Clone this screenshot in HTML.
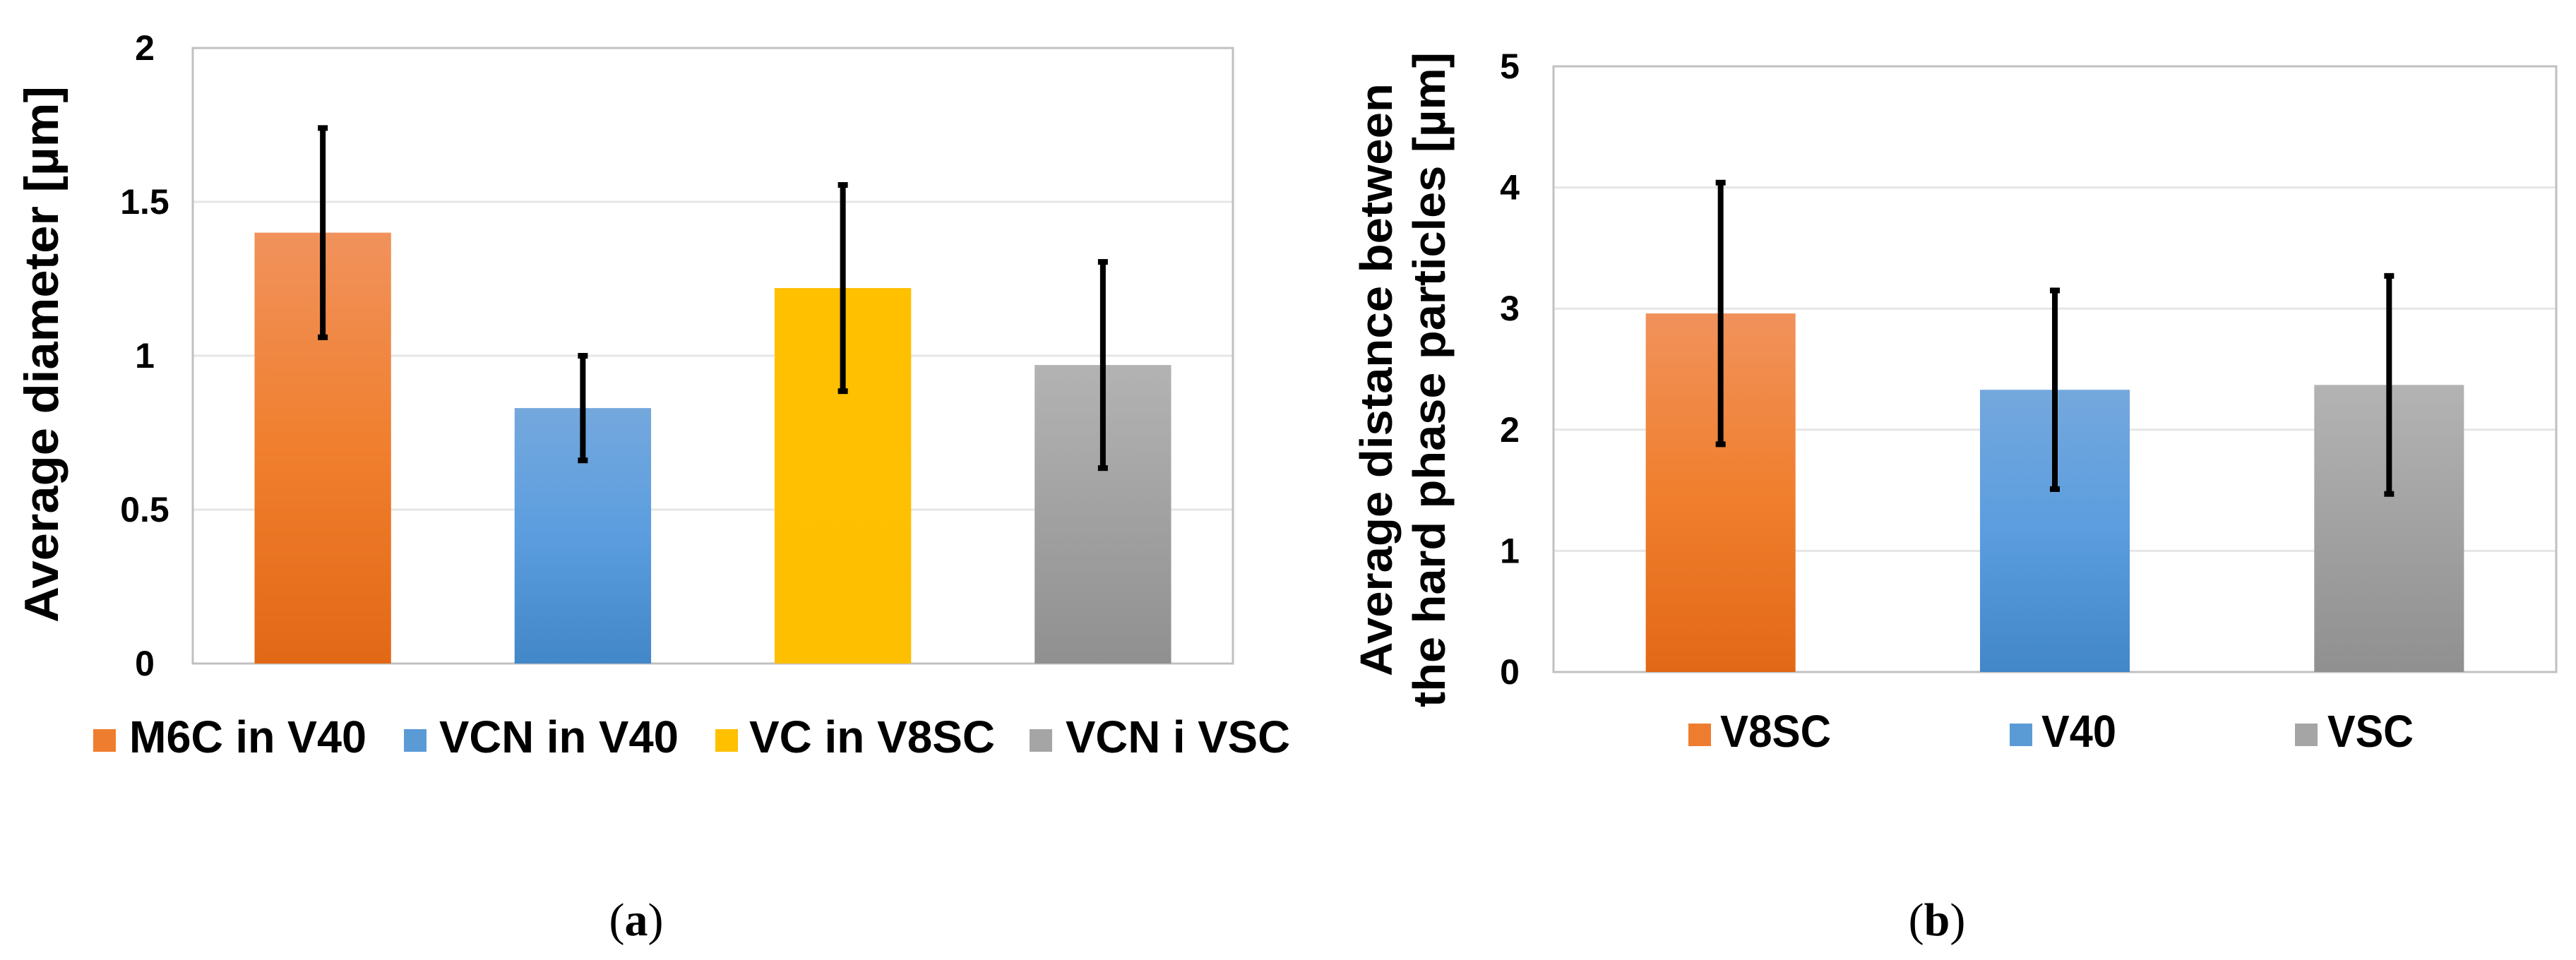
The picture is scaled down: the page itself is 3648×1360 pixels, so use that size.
<!DOCTYPE html>
<html><head><meta charset="utf-8"><style>
html,body{margin:0;padding:0;background:#fff;}
svg{display:block;font-family:"Liberation Sans",Arial,sans-serif;}
</style></head><body>
<svg id="fig" width="3648" height="1360" viewBox="0 0 3648 1360" xmlns="http://www.w3.org/2000/svg">
<defs>
<linearGradient id="gOrange" x1="0" y1="0" x2="0" y2="1"><stop offset="0" stop-color="#f1925c"/><stop offset="0.5" stop-color="#f07f2e"/><stop offset="1" stop-color="#e26816"/></linearGradient>
<linearGradient id="gBlue" x1="0" y1="0" x2="0" y2="1"><stop offset="0" stop-color="#74a8dd"/><stop offset="0.5" stop-color="#5b9ddf"/><stop offset="1" stop-color="#4287c8"/></linearGradient>
<linearGradient id="gYellow" x1="0" y1="0" x2="0" y2="1"><stop offset="0" stop-color="#ffc000"/><stop offset="1" stop-color="#fdbf00"/></linearGradient>
<linearGradient id="gGray" x1="0" y1="0" x2="0" y2="1"><stop offset="0" stop-color="#b3b3b3"/><stop offset="1" stop-color="#909090"/></linearGradient>
</defs>
<g id="chartA"></g>
<g id="chartB"></g>
<text x="901" y="1325" font-family="Liberation Serif, serif" font-size="66" text-anchor="middle">(<tspan font-weight="bold">a</tspan>)</text>
<text x="2743" y="1325" font-family="Liberation Serif, serif" font-size="66" text-anchor="middle">(<tspan font-weight="bold">b</tspan>)</text>
</svg>
<script>
const catsA = ["M6C in V40","VCN in V40","VC in V8SC","VCN i VSC"];
const valsA = [1.40,0.83,1.22,0.97];
const errA = [0.34,0.17,0.335,0.335];
const ticksA = ["0","0.5","1","1.5","2"];
const tickValsA = [0,0.5,1,1.5,2];
const catsB = ["V8SC","V40","VSC"];
const valsB = [2.96,2.33,2.37];
const errB = [1.08,0.82,0.90];
const ticksB = ["0","1","2","3","4","5"];
const tickValsB = [0,1,2,3,4,5];
const fillsA = ["url(#gOrange)","url(#gBlue)","url(#gYellow)","url(#gGray)"];
const fillsB = ["url(#gOrange)","url(#gBlue)","url(#gGray)"];
const legA = ["#ef7d2f","#5b9bd5","#ffc000","#a5a5a5"];
const legB = ["#ef7d2f","#5b9bd5","#a5a5a5"];
const NS="http://www.w3.org/2000/svg";
function mk(parent,tag,attrs,text){const e=document.createElementNS(NS,tag);for(const k in attrs)e.setAttribute(k,attrs[k]);if(text!==undefined)e.textContent=text;parent.appendChild(e);return e;}

function drawChart(g,cfg){
  const {L,R,T,B,max,cats,vals,errs,ticks,tickVals,fills,barFrac,tickX,legY,legItems,legColors}=cfg;
  const y=v=>B-(v/max)*(B-T);
  const cw=(R-L)/cats.length;
  const x=i=>L+cw*(i+0.5);
  tickVals.forEach((tv,i)=>{
    if(tv>0 && tv<max){
      const gl=mk(g,'line',{x1:L,x2:R,y1:y(tv),y2:y(tv),stroke:'#e6e6e6','stroke-width':3});
      
      
    }
    const t=mk(g,'text',{x:tickX,y:y(tv)+17,'font-size':50,'font-weight':'bold','text-anchor':'middle'},ticks[i]);
    
    
  });
  const fr=mk(g,'rect',{x:L,y:T,width:R-L,height:B-T,fill:'none',stroke:'#c0c0c0','stroke-width':3});
  
  
  const bw=cw*barFrac;
  vals.forEach((v,i)=>{
    const r=mk(g,'rect',{x:x(i)-bw/2,y:y(v),width:bw,height:B-y(v),fill:fills[i]});
    
    
    const eg=mk(g,'g',{});
    
    
    const hi=y(v+errs[i]),lo=y(v-errs[i]);
    mk(eg,'line',{x1:x(i),x2:x(i),y1:hi,y2:lo,stroke:'#000','stroke-width':8});
    mk(eg,'rect',{x:x(i)-7,y:hi-4,width:14,height:8,fill:'#000'});
    mk(eg,'rect',{x:x(i)-7,y:lo-4,width:14,height:8,fill:'#000'});
  });
  legItems.forEach((it,i)=>{
    const lg=mk(g,'g',{});
    
    
    mk(lg,'rect',{x:it.sx,y:legY-33,width:32,height:32,fill:legColors[i]});
    mk(lg,'text',{x:it.tx,y:legY,'font-size':64,'font-weight':'bold',textLength:it.tw,lengthAdjust:'spacingAndGlyphs'},cats[i]);
  });
}
const gA=document.getElementById('chartA');
drawChart(gA,{L:273,R:1746,T:68,B:940,max:2,cats:catsA,vals:valsA,errs:errA,ticks:ticksA,tickVals:tickValsA,fills:fillsA,barFrac:0.525,tickX:205,legY:1066,
  legItems:[{sx:132,tx:183,tw:336},{sx:572,tx:622,tw:339},{sx:1013,tx:1061,tw:348},{sx:1458,tx:1509,tw:318}],legColors:legA});
const yt=mk(gA,'text',{transform:'translate(82,502) rotate(-90)','font-size':68,'font-weight':'bold','text-anchor':'middle',textLength:760,lengthAdjust:'spacingAndGlyphs'},'Average diameter [µm]');


const gB=document.getElementById('chartB');
drawChart(gB,{L:2200,R:3620,T:94,B:952,max:5,cats:catsB,vals:valsB,errs:errB,ticks:ticksB,tickVals:tickValsB,fills:fillsB,barFrac:0.448,tickX:2138,legY:1058,
  legItems:[{sx:2391,tx:2436,tw:157},{sx:2846,tx:2891,tw:106},{sx:3250,tx:3296,tw:122}],legColors:legB});
const yb1=mk(gB,'text',{transform:'translate(1971,538) rotate(-90)','font-size':64,'font-weight':'bold','text-anchor':'middle',textLength:840,lengthAdjust:'spacingAndGlyphs'},'Average distance between');


const yb2=mk(gB,'text',{transform:'translate(2046,538) rotate(-90)','font-size':64,'font-weight':'bold','text-anchor':'middle',textLength:928,lengthAdjust:'spacingAndGlyphs'},'the hard phase particles [µm]');


</script>
</body></html>
